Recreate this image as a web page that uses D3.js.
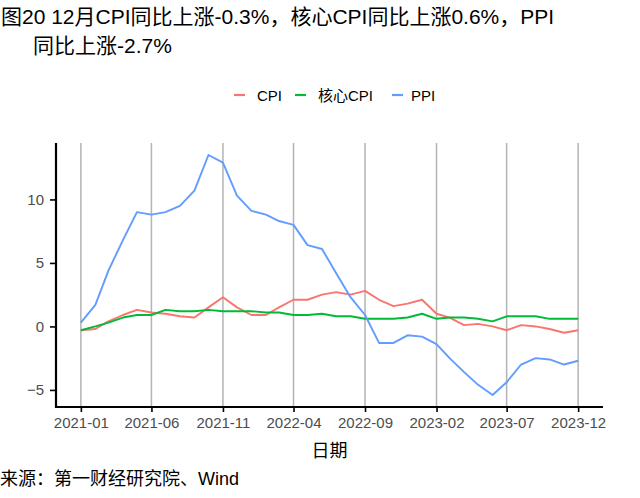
<!DOCTYPE html>
<html><head><meta charset="utf-8">
<script src="https://cdn.jsdelivr.net/npm/d3@7"></script>
<style>
body{margin:0;background:#fff;}
text{font-family:"Liberation Sans","Noto Sans CJK SC",sans-serif;}
</style></head>
<body><svg id="c" width="640" height="498"></svg>
<script>
const startMonth = "2021-01";
const endMonth = "2023-12";
const tickLabels = ["2021-01","2021-06","2021-11","2022-04","2022-09","2023-02","2023-07","2023-12"];
const yTicks = [-5, 0, 5, 10];
const seriesNames = ["CPI", "核心CPI", "PPI"];
const seriesColors = ["#F8766D", "#00BA38", "#619CFF"];
const cpi = [-0.3,-0.2,0.4,0.9,1.3,1.1,1.0,0.8,0.7,1.5,2.3,1.5,
             0.9,0.9,1.5,2.1,2.1,2.5,2.7,2.5,2.8,2.1,1.6,1.8,
             2.1,1.0,0.7,0.1,0.2,0.0,-0.3,0.1,0.0,-0.2,-0.5,-0.3];
const coreCpi = [-0.3,0.0,0.3,0.7,0.9,0.9,1.3,1.2,1.2,1.3,1.2,1.2,
                 1.2,1.1,1.1,0.9,0.9,1.0,0.8,0.8,0.6,0.6,0.6,0.7,
                 1.0,0.6,0.7,0.7,0.6,0.4,0.8,0.8,0.8,0.6,0.6,0.6];
const ppi = [0.3,1.7,4.4,6.8,9.0,8.8,9.0,9.5,10.7,13.5,12.9,10.3,
             9.1,8.8,8.3,8.0,6.4,6.1,4.2,2.3,0.9,-1.3,-1.3,-0.7,
             -0.8,-1.4,-2.5,-3.6,-4.6,-5.4,-4.4,-3.0,-2.5,-2.6,-3.0,-2.7];

const parse = d3.timeParse("%Y-%m");
const fmt = d3.timeFormat("%Y-%m");
const dates = d3.timeMonth.range(parse(startMonth), d3.timeMonth.offset(parse(endMonth), 1));
const allSeries = [cpi, coreCpi, ppi];

const svg = d3.select("#c");
const L = 56, R = 603, T = 143, B = 407;

const t0 = +dates[0], t1 = +dates[dates.length - 1], pad = (t1 - t0) * 0.05;
const x = d3.scaleTime().domain([new Date(t0 - pad), new Date(t1 + pad)]).range([L, R]);
const allVals = allSeries.flat();
const vmin = d3.min(allVals), vmax = d3.max(allVals), vp = (vmax - vmin) * 0.05;
const y = d3.scaleLinear().domain([vmin - vp, vmax + vp]).range([B, T]);

const tickDates = tickLabels.map(parse);

// vertical gridlines
svg.append("g").selectAll("line").data(tickDates).join("line")
  .attr("x1", d => x(d)).attr("x2", d => x(d))
  .attr("y1", T).attr("y2", B)
  .attr("stroke", "#b3b3b3").attr("stroke-width", 1.5);

// lines
const line = d3.line().x((d, i) => x(dates[i])).y(d => y(d));
allSeries.forEach((s, k) => {
  svg.append("path").datum(s).attr("d", line)
    .attr("fill", "none").attr("stroke", seriesColors[k])
    .attr("stroke-width", 1.9).attr("stroke-linejoin", "round");
});

// axes
const xAxis = svg.append("g").attr("transform", `translate(0,${B})`)
  .call(d3.axisBottom(x).tickValues(tickDates).tickFormat(fmt).tickSize(5).tickSizeOuter(0).tickPadding(5));
const yAxis = svg.append("g").attr("transform", `translate(${L},0)`)
  .call(d3.axisLeft(y).tickValues(yTicks).tickSize(6).tickSizeOuter(0).tickPadding(6));
[xAxis, yAxis].forEach(a => {
  a.select(".domain").attr("stroke", "#000").attr("stroke-width", 2.2);
  a.selectAll(".tick line").attr("stroke", "#000").attr("stroke-width", 1.6);
  a.selectAll(".tick text").attr("fill", "#4d4d4d").style("font-size", "15px")
    .style("font-family", '"Liberation Sans",sans-serif');
});
xAxis.select(".domain").attr("d", `M${L - 1},0H${R}`);
yAxis.select(".domain").attr("d", `M0,${T}V${B + 1}`);

// x title
svg.append("text").attr("x", (L + R) / 2).attr("y", 457).attr("text-anchor", "middle")
  .style("font-size", "18px").attr("fill", "#000").text("日期");

// title
svg.append("text").attr("x", 1).attr("y", 24).style("font-size", "21px").attr("fill", "#000")
  .text("图20 12月CPI同比上涨-0.3%，核心CPI同比上涨0.6%，PPI");
svg.append("text").attr("x", 33).attr("y", 53).style("font-size", "21px").attr("fill", "#000")
  .text("同比上涨-2.7%");

// legend
const legendX = [234, 295, 392];
const legendTX = [257, 318, 411];
seriesNames.forEach((n, k) => {
  svg.append("line").attr("x1", legendX[k]).attr("x2", legendX[k] + 11)
    .attr("y1", 95).attr("y2", 95).attr("stroke", seriesColors[k]).attr("stroke-width", 2.2);
  svg.append("text").attr("x", legendTX[k]).attr("y", 100.5).style("font-size", "15px")
    .attr("fill", "#000").text(n);
});

// source
svg.append("text").attr("x", 0).attr("y", 485).style("font-size", "18px").attr("fill", "#000")
  .text("来源：第一财经研究院、Wind");
</script></body></html>
